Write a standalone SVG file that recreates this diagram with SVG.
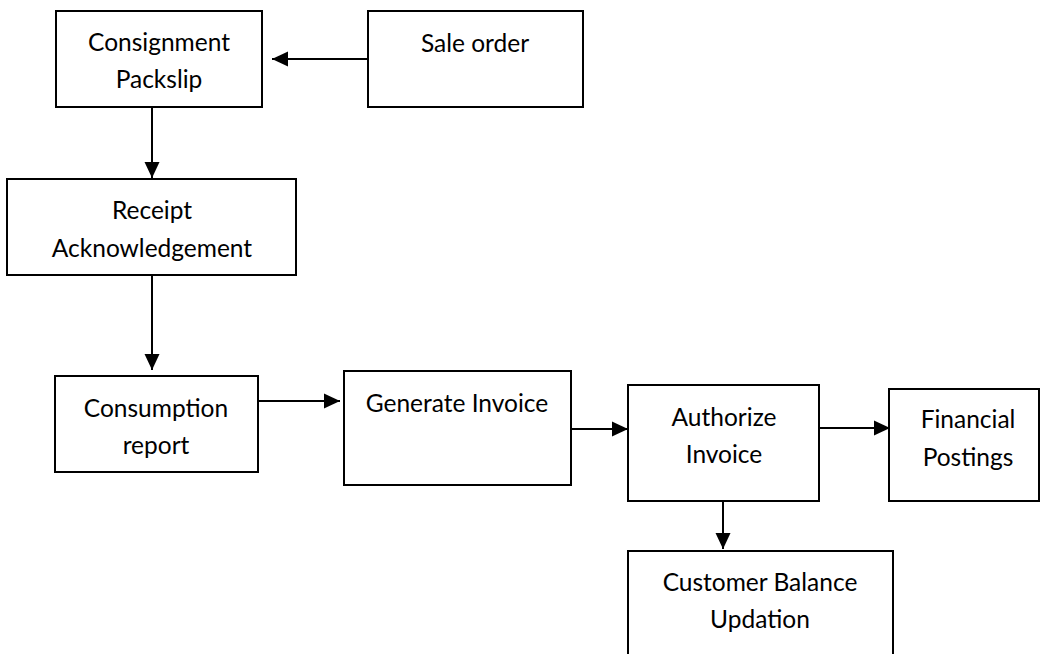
<svg xmlns="http://www.w3.org/2000/svg" width="1041" height="654" viewBox="0 0 1041 654">
  <style>
    .box { fill: #ffffff; stroke: #000000; stroke-width: 2; }
    .link { fill: none; stroke: #000000; stroke-width: 2; marker-end: url(#arrow); }
    text { font-family: Lato, "Liberation Sans", sans-serif; font-size: 24.5px; fill: #000000; text-anchor: middle; }
  </style>
  <defs>
    <marker id="arrow" markerUnits="userSpaceOnUse" markerWidth="16" markerHeight="16" viewBox="0 0 16 16" refX="16" refY="8" orient="auto">
      <path d="M0,0.5 L16,8 L0,15.5 Z" fill="#000000"/>
    </marker>
  </defs>
  <rect width="1041" height="654" fill="#ffffff"/>

  <!-- flow connectors -->
  <g id="connectors">
    <line class="link" x1="368" y1="59" x2="272" y2="59"/>
    <line class="link" x1="152" y1="107" x2="152" y2="178"/>
    <line class="link" x1="152" y1="275" x2="152" y2="370"/>
    <line class="link" x1="258" y1="401" x2="340" y2="401"/>
    <line class="link" x1="571" y1="429" x2="628" y2="429"/>
    <line class="link" x1="819" y1="428" x2="890" y2="428"/>
    <line class="link" x1="723" y1="501" x2="723" y2="549"/>
  </g>

  <g id="consignment-packslip">
    <rect class="box" x="56" y="11" width="206" height="96"/>
    <text x="159" y="51">Consignment</text>
    <text x="159" y="88">Packslip</text>
  </g>

  <g id="sale-order">
    <rect class="box" x="368" y="11" width="215" height="96"/>
    <text x="475" y="52">Sale order</text>
  </g>

  <g id="receipt-acknowledgement">
    <rect class="box" x="7" y="179" width="289" height="96"/>
    <text x="152" y="219">Receipt</text>
    <text x="152" y="257">Acknowledgement</text>
  </g>

  <g id="consumption-report">
    <rect class="box" x="55" y="376" width="203" height="96"/>
    <text x="156" y="417">Consumption</text>
    <text x="156" y="454">report</text>
  </g>

  <g id="generate-invoice">
    <rect class="box" x="344" y="371" width="227" height="114"/>
    <text x="457" y="412">Generate Invoice</text>
  </g>

  <g id="authorize-invoice">
    <rect class="box" x="628" y="385" width="191" height="116"/>
    <text x="724" y="426">Authorize</text>
    <text x="724" y="463">Invoice</text>
  </g>

  <g id="financial-postings">
    <rect class="box" x="889" y="389" width="150" height="112"/>
    <text x="968" y="428">Financial</text>
    <text x="968" y="466">Postings</text>
  </g>

  <g id="customer-balance-updation">
    <rect class="box" x="628" y="551" width="265" height="120"/>
    <text x="760" y="591">Customer Balance</text>
    <text x="760" y="628">Updation</text>
  </g>
</svg>
